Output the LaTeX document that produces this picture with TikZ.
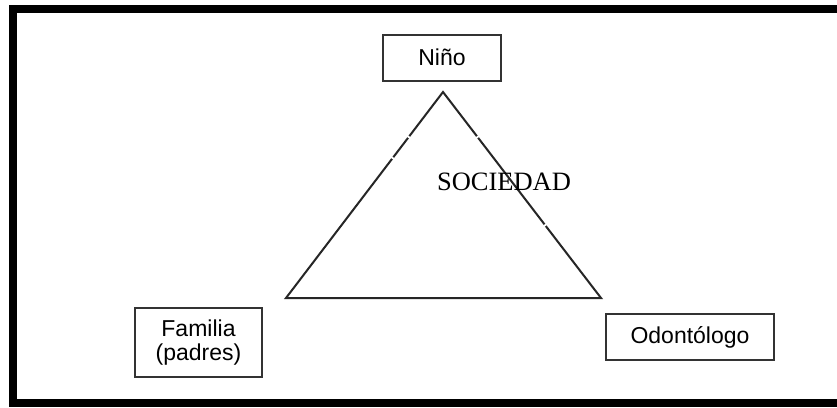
\documentclass[tikz,border=0pt]{standalone}
\usepackage{fontspec}
\setmainfont{Liberation Serif}
\setsansfont{Liberation Sans}
\begin{document}
\begin{tikzpicture}[x=1pt,y=-1pt,
  lbox/.style={draw=black!80,line width=2pt,rectangle,inner sep=0pt,font=\sffamily\fontsize{23}{25}\selectfont,align=center},
  tri/.style={draw=black!85,line width=2pt,line join=miter},
  gap/.style={draw=white,line width=3.5pt}]
\clip (0,0) rectangle (837,407);
\fill[white] (0,0) rectangle (837,407);
\draw[line width=7.5pt] (13,9) rectangle (850,403);
\node[lbox,minimum width=118pt,minimum height=46pt] (nino) at (442,57.5) {Niño};
\node[lbox,minimum width=127pt,minimum height=69pt] (fam) at (198.5,342.5) {Familia\\[-1pt](padres)};
\node[lbox,minimum width=168pt,minimum height=46pt] (odo) at (690,337) {Odontólogo};
\coordinate (A) at (443,92);
\coordinate (B) at (286,298);
\coordinate (C) at (601,298);
\draw[tri] (A) -- (B) -- (C) -- cycle;
\path (A) -- (B) coordinate[pos=0.215] (g1a) coordinate[pos=0.222] (g1b)
                 coordinate[pos=0.317] (g2a) coordinate[pos=0.324] (g2b);
\path (A) -- (C) coordinate[pos=0.215] (g3a) coordinate[pos=0.222] (g3b)
                 coordinate[pos=0.643] (g4a) coordinate[pos=0.650] (g4b);
\draw[gap] (g1a) -- (g1b);
\draw[gap] (g2a) -- (g2b);
\draw[gap] (g3a) -- (g3b);
\draw[gap] (g4a) -- (g4b);
\node[font=\fontsize{26.5}{28}\selectfont,inner sep=0pt] (soc) at (504,182) {SOCIEDAD};
\end{tikzpicture}
\end{document}
